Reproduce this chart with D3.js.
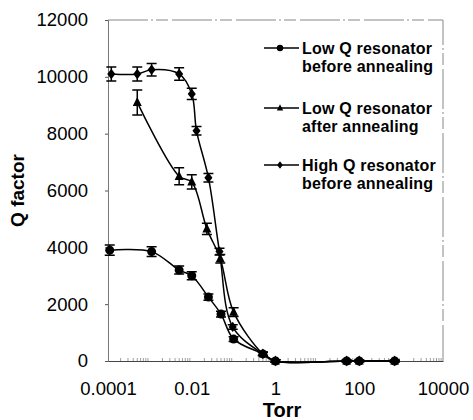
<!DOCTYPE html>
<html>
<head>
<meta charset="utf-8">
<script src="https://cdn.jsdelivr.net/npm/d3@7"></script>
<style>
  body { margin: 0; background: #fff; }
  svg { font-family: Arial, "Liberation Sans", sans-serif; }
</style>
</head>
<body>
<div id="chart"></div>
<script>
// pressure values (Torr) and Q factors
const lowBeforeTorr = [1.1e-4, 1.1e-3, 5e-3, 0.01, 0.025, 0.05, 0.1, 0.5, 1, 50, 100, 700];
const lowBeforeQ    = [3900, 3850, 3200, 3000, 2250, 1650, 770, 250, 0, 0, 0, 0];
const lowBeforeErr  = [180, 170, 140, 140, 110, 100, 80, 60, 40, 30, 30, 30];

const lowAfterTorr = [5e-4, 5e-3, 0.01, 0.023, 0.048, 0.1, 0.5, 1, 50, 100, 700];
const lowAfterQ    = [9100, 6500, 6300, 4650, 3600, 1720, 250, 0, 0, 0, 0];
const lowAfterErr  = [440, 300, 250, 200, 150, 150, 60, 40, 30, 30, 30];

const highBeforeTorr = [1.2e-4, 5e-4, 1.1e-3, 5e-3, 0.01, 0.013, 0.025, 0.046, 0.095, 0.5, 1, 50, 100, 700];
const highBeforeQ    = [10100, 10100, 10250, 10100, 9400, 8100, 6450, 3850, 1200, 250, 0, 0, 0, 0];
const highBeforeErr  = [250, 250, 220, 220, 200, 150, 150, 120, 80, 60, 40, 30, 30, 30];

const xTicks = [1e-4, 1e-2, 1, 100, 1e4];
const xTickLabels = ["0.0001", "0.01", "1", "100", "10000"];
const yTicks = [0, 2000, 4000, 6000, 8000, 10000, 12000];

const legendNames = [
    ["Low Q resonator", "before annealing"],
    ["Low Q resonator", "after annealing"],
    ["High Q resonator", "before annealing"]
];

const width = 473, height = 420;
const margin = { top: 20, right: 30, bottom: 59, left: 108 };

const series = [
    { torr: lowBeforeTorr, q: lowBeforeQ, err: lowBeforeErr, shape: "circle" },
    { torr: lowAfterTorr, q: lowAfterQ, err: lowAfterErr, shape: "triangle" },
    { torr: highBeforeTorr, q: highBeforeQ, err: highBeforeErr, shape: "diamond" }
].map((s, i) => ({
    ...s,
    name: legendNames[i],
    points: s.torr.map((t, j) => ({ t: t, q: s.q[j], e: s.err[j] }))
}));

const x = d3.scaleLog()
    .domain([1e-4, 1e4])
    .range([margin.left, width - margin.right]);
const y = d3.scaleLinear()
    .domain([0, 12000])
    .range([height - margin.bottom, margin.top]);

const svg = d3.select("#chart").append("svg")
    .attr("width", width)
    .attr("height", height);

// frame: top and right edges are faint gray dashes in the original
svg.append("path")
    .attr("d", `M${x(1e-4)},${y(12000)}H${x(1e4)}V${y(0)}`)
    .attr("fill", "none")
    .attr("stroke", "#888")
    .attr("stroke-width", 1)
    .attr("stroke-dasharray", "40,3,2,3,12,4");

// y axis
const yAxis = svg.append("g")
    .attr("transform", `translate(${margin.left},0)`)
    .call(d3.axisLeft(y).tickValues(yTicks).tickSize(3).tickPadding(17).tickFormat(d3.format("d")));
yAxis.select(".domain").attr("stroke", "#777");
yAxis.selectAll(".tick line").attr("stroke", "#555");
yAxis.selectAll("text")
    .attr("font-size", 18.5)
    .attr("fill", "#000");

// x axis
const xAxis = svg.append("g")
    .attr("transform", `translate(0,${y(0)})`)
    .call(d3.axisBottom(x).tickValues(xTicks).tickSize(0).tickPadding(21).tickFormat((d, i) => xTickLabels[i]));
xAxis.select(".domain").attr("stroke", "#444");
xAxis.selectAll("text")
    .attr("font-size", 18.5)
    .attr("fill", "#000");

// minor log ticks along the bottom
const minor = [];
for (let e = -4; e < 4; e++) {
    for (let k = 2; k <= 9; k++) minor.push(k * Math.pow(10, e));
}
svg.append("g")
    .selectAll("line")
    .data(minor)
    .enter()
    .append("line")
    .attr("x1", d => x(d))
    .attr("x2", d => x(d))
    .attr("y1", y(0))
    .attr("y2", y(0) - 3)
    .attr("stroke", "#888")
    .attr("stroke-width", 0.8);

// axis titles
svg.append("text")
    .attr("transform", `translate(24,${(y(0) + y(12000)) / 2}) rotate(-90)`)
    .attr("text-anchor", "middle")
    .attr("font-size", 19)
    .attr("font-weight", "bold")
    .text("Q factor");

svg.append("text")
    .attr("x", 282)
    .attr("y", 417)
    .attr("text-anchor", "middle")
    .attr("font-size", 20)
    .attr("font-weight", "bold")
    .text("Torr");

const line = d3.line()
    .x(d => x(d.t))
    .y(d => y(d.q))
    .curve(d3.curveCatmullRom.alpha(0.5));

function marker(sel, shape, size) {
    if (shape === "circle") {
        sel.append("circle").attr("r", size).attr("fill", "#000");
    } else if (shape === "triangle") {
        sel.append("path")
            .attr("d", `M0,${-size * 1.2}L${size},${size * 0.8}L${-size},${size * 0.8}Z`)
            .attr("fill", "#000");
    } else {
        sel.append("path")
            .attr("d", `M0,${-size * 1.15}L${size * 0.9},0L0,${size * 1.15}L${-size * 0.9},0Z`)
            .attr("fill", "#000");
    }
}

const plot = svg.append("g");

series.forEach(s => {
    plot.append("path")
        .datum(s.points)
        .attr("d", line)
        .attr("fill", "none")
        .attr("stroke", "#000")
        .attr("stroke-width", 1.5);

    const pts = plot.append("g")
        .selectAll("g")
        .data(s.points)
        .enter()
        .append("g")
        .attr("transform", d => `translate(${x(d.t)},${y(d.q)})`);

    // error bars with caps
    pts.append("path")
        .attr("d", d => {
            const h = y(d.q - d.e) - y(d.q);
            return `M-5,${-h}H5M0,${-h}V${h}M-5,${h}H5`;
        })
        .attr("fill", "none")
        .attr("stroke", "#000")
        .attr("stroke-width", 1.5);

    pts.each(function() { marker(d3.select(this), s.shape, 4.5); });
});

// legend
const legendY = [48, 108, 165];
const legend = svg.append("g")
    .selectAll("g")
    .data(series)
    .enter()
    .append("g")
    .attr("transform", (d, i) => `translate(264,${legendY[i]})`);

legend.append("line")
    .attr("x1", 0)
    .attr("x2", 35)
    .attr("stroke", "#000")
    .attr("stroke-width", 1.5);

legend.append("g")
    .attr("transform", "translate(16,0)")
    .each(function(d) { marker(d3.select(this), d.shape, 3.2); });

legend.append("text")
    .attr("y", 6)
    .attr("font-size", 16)
    .attr("font-weight", "bold")
    .attr("letter-spacing", 0.2)
    .selectAll("tspan")
    .data(d => d.name)
    .enter()
    .append("tspan")
    .attr("x", 38)
    .attr("dy", (d, i) => i === 0 ? 0 : 18)
    .text(d => d);
</script>
</body>
</html>
